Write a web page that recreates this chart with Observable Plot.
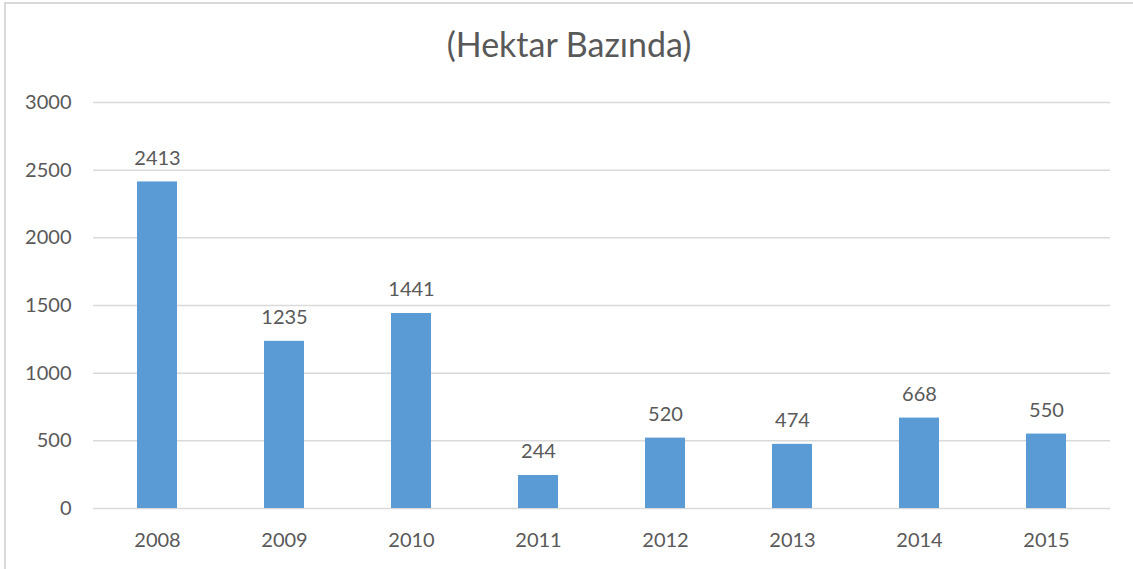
<!DOCTYPE html>
<html>
<head>
<meta charset="utf-8">
<script src="https://cdn.jsdelivr.net/npm/d3@7"></script>
<script src="https://cdn.jsdelivr.net/npm/@observablehq/plot@0.6"></script>
<style>
  html, body { margin: 0; padding: 0; background: #fff; }
  #wrap { position: relative; width: 1133px; height: 569px; overflow: hidden; font-family: Lato, "Open Sans", sans-serif; }
  #frame { position: absolute; left: 4px; top: 2px; width: 1200px; height: 700px; border-left: 2px solid #d9d9d9; border-top: 2px solid #d9d9d9; box-sizing: border-box; }
  #title { position: absolute; left: 5px; right: 0; top: 27px; text-align: center; font-size: 34px; line-height: 1; color: #595959; }
  #chart { position: absolute; left: 0; top: 80px; }
</style>
</head>
<body>
<div id="wrap">
  <div id="frame"></div>
  <div id="title">(Hektar Bazında)</div>
  <div id="chart"></div>
</div>
<script>
const years = ["2008", "2009", "2010", "2011", "2012", "2013", "2014", "2015"];
const values = [2413, 1235, 1441, 244, 520, 474, 668, 550];
const yTicks = [0, 500, 1000, 1500, 2000, 2500, 3000];

const data = years.map((year, i) => ({ year, value: values[i] }));

const chart = Plot.plot({
  width: 1133,
  height: 489,
  marginTop: 22,
  marginBottom: 61,
  marginLeft: 93,
  marginRight: 23,
  style: { fontFamily: "Lato, 'Open Sans', sans-serif", fontSize: "20px", color: "#595959", background: "transparent" },
  x: { domain: years, paddingInner: 0.685, paddingOuter: 0.3425, label: null },
  y: { domain: [0, 3000], label: null },
  marks: [
    Plot.ruleY(yTicks, { stroke: "#d9d9d9", strokeWidth: 1.5 }),
    Plot.barY(data, { x: "year", y: "value", fill: "#5b9bd5" }),
    Plot.text(data, { x: "year", y: "value", text: d => String(d.value), lineAnchor: "bottom", dy: -17, fill: "#595959", fontSize: 20 }),
    Plot.axisX({ tickSize: 0, tickPadding: 24, fontSize: 20, fill: "#595959", label: null }),
    Plot.axisY({ ticks: yTicks, tickSize: 0, tickPadding: 22, fontSize: 20, fill: "#595959", label: null, tickFormat: d => String(d) })
  ]
});
document.getElementById("chart").appendChild(chart);
</script>
</body>
</html>
